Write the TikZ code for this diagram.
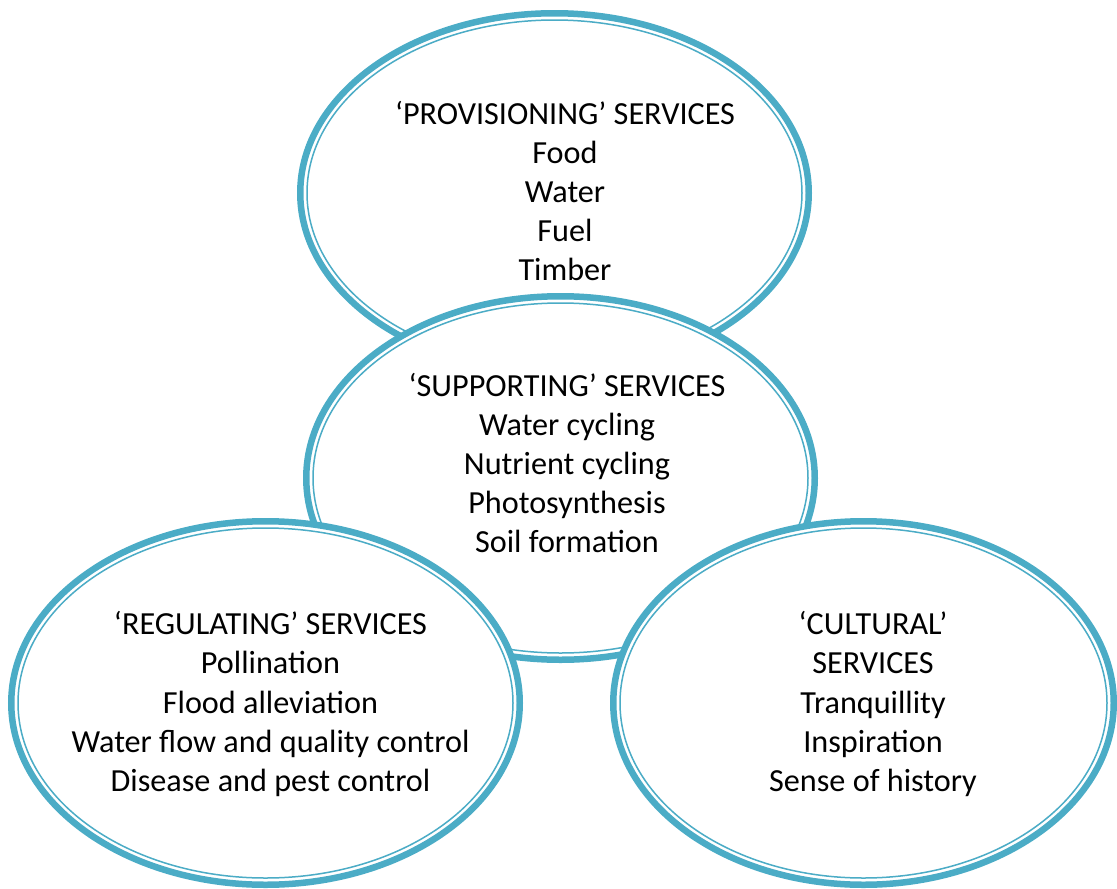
\documentclass[tikz,border=0pt]{standalone}
\usepackage{fontspec}
\setmainfont{Carlito}
\definecolor{svcblue}{HTML}{4BACC6}
\newcommand{\svcring}[5]{%
  \coordinate (#1) at (#2,#3);
  \fill[white] (#1) ellipse [x radius=#4-1, y radius=#5-1];
  \draw[svcblue, line width=6.5pt] (#1) ellipse [x radius=#4-3.25, y radius=#5-3.25];
  \draw[svcblue, line width=1.5pt] (#1) ellipse [x radius=#4-10, y radius=#5-10];
}
\begin{document}
\begin{tikzpicture}[x=1pt,y=-1pt,
  svctext/.style={align=center, inner sep=0pt, font=\fontsize{32.2}{39.1}\selectfont, text=black}]
\useasboundingbox (0,0) rectangle (1117,889);
\svcring{prov}{554.5}{193}{257.5}{183}
\node[svctext] (provtext) at (565,191) {‘PROVISIONING’ SERVICES\\Food\\Water\\Fuel\\Timber};
\svcring{supp}{560.5}{478}{257.5}{185}
\node[svctext] (supptext) at (567,463) {‘SUPPORTING’ SERVICES\\Water cycling\\Nutrient cycling\\Photosynthesis\\Soil formation};
\svcring{regu}{265.5}{703}{257.5}{185}
\node[svctext] (regutext) at (270.5,704) {‘REGULATING’ SERVICES\\Pollination\\Flood alleviation\\Water flow and quality control\\Disease and pest control};
\svcring{cult}{863.5}{703}{253.5}{185}
\node[svctext] (culttext) at (873,704) {‘CULTURAL’\\SERVICES\\Tranquillity\\Inspiration\\Sense of history};
\end{tikzpicture}
\end{document}
